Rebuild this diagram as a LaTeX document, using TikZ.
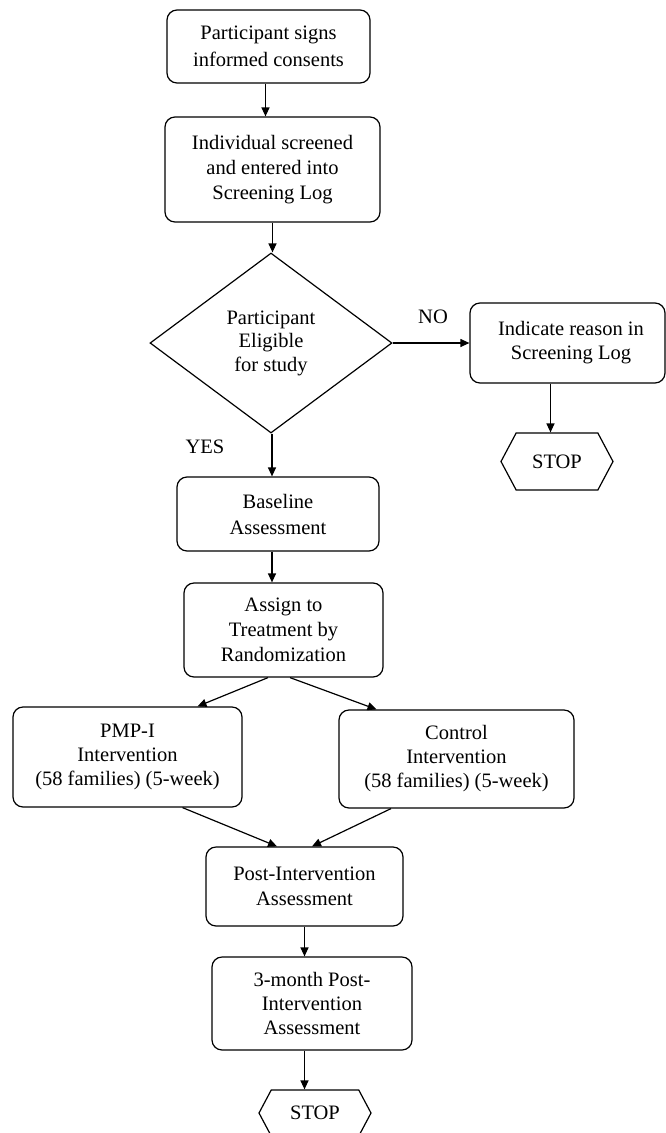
\documentclass[tikz,border=0pt]{standalone}
\usepackage{fontspec}
\setmainfont{Liberation Serif}
\usetikzlibrary{shapes.geometric,shapes.symbols,arrows.meta,calc}
\begin{document}
\begin{tikzpicture}[x=1pt,y=-1pt,
  every node/.style={inner sep=0pt, align=center, font=\fontsize{20.5}{25}\selectfont},
  box/.style={draw, rounded corners=10pt, line width=1.2pt},
  dec/.style={draw, diamond, line width=1.2pt, aspect=1.34},
  stopnode/.style={draw, signal, signal to=west and east, signal pointer angle=124, line width=1.2pt},
  lab/.style={font=\fontsize{20.5}{25}\selectfont},
  arr/.style={line width=1.2pt, -{Triangle[length=9pt,width=8pt]}},
  ln/.style={line width=1.2pt}]
\useasboundingbox (0,0) rectangle (666,1133);
\fill[white] (0,0) rectangle (666,1133);

\node[box, minimum width=203pt, minimum height=73pt, font=\fontsize{20.5}{27}\selectfont] (b1) at (268.5,46.5) {Participant signs\\informed consents};
\node[box, minimum width=215pt, minimum height=105pt] (b2) at (272.5,169.5) {Individual screened\\and entered into\\Screening Log};
\node[dec, minimum width=242pt, minimum height=180pt, font=\fontsize{20.5}{23.5}\selectfont] (d) at (271,343) {Participant\\Eligible\\for study};
\node[box, minimum width=195pt, minimum height=80pt, font=\fontsize{20.5}{24}\selectfont] (b3) at (567.5,343) {\hspace*{7pt}Indicate reason in\\\hspace*{7pt}Screening Log};
\node[stopnode, minimum width=112pt, minimum height=57pt] (s1) at (557,461.5) {STOP};
\node[box, minimum width=202pt, minimum height=74pt, font=\fontsize{20.5}{26}\selectfont] (base) at (278,514) {Baseline\\Assessment};
\node[box, minimum width=199pt, minimum height=94pt, font=\fontsize{20.5}{25}\selectfont] (asg) at (283.5,630) {Assign to\\Treatment by\\Randomization};
\node[box, minimum width=229pt, minimum height=100pt, font=\fontsize{20.5}{24}\selectfont] (pmp) at (127.5,757) {PMP-I\\Intervention\\(58 families) (5-week)};
\node[box, minimum width=235pt, minimum height=98pt, font=\fontsize{20.5}{24}\selectfont] (ctrl) at (456.5,759) {Control\\Intervention\\(58 families) (5-week)};
\node[box, minimum width=197pt, minimum height=79pt] (post) at (304.5,886.5) {Post-Intervention\\Assessment};
\node[box, minimum width=200pt, minimum height=93pt, font=\fontsize{20.5}{24}\selectfont] (m3) at (312,1003.5) {3-month Post-\\Intervention\\Assessment};
\node[stopnode, minimum width=112pt, minimum height=46pt] (s2) at (315,1113) {STOP};

\node[lab] (no) at (433,317) {NO};
\node[lab] (yes) at (205,447) {YES};

\draw[arr] ($(b1.south)+(-3,0)$) -- ($(b1.south |- b2.north)+(-3,0)$);
\draw[arr] (b2.south) -- (b2.south |- d.north);
\draw[arr] (d.east) -- (b3.west |- d.east);
\draw[arr] ($(b3.south)+(-17,0)$) coordinate (b3s) -- (b3s |- s1.north);
\draw[arr] ($(d.south)+(1,0)$) coordinate (ds) -- (ds |- base.north);
\draw[arr] (base.south -| ds) -- (asg.north -| ds);
\draw[arr] ($(asg.south)+(-15.5,0)$) -- ($(pmp.north)+(70,0)$);
\draw[arr] ($(asg.south)+(6.5,0)$) -- ($(ctrl.north)+(-80,0)$);
\draw[arr] ($(pmp.south)+(55,0)$) -- ($(post.north)+(-27.5,0)$);
\draw[arr] ($(ctrl.south)+(-65.5,0)$) -- ($(post.north)+(7.5,0)$);
\draw[arr] (post.south) -- (post.south |- m3.north);
\draw[arr] (m3.south -| post.south) -- (s2.north -| post.south);
\end{tikzpicture}
\end{document}
